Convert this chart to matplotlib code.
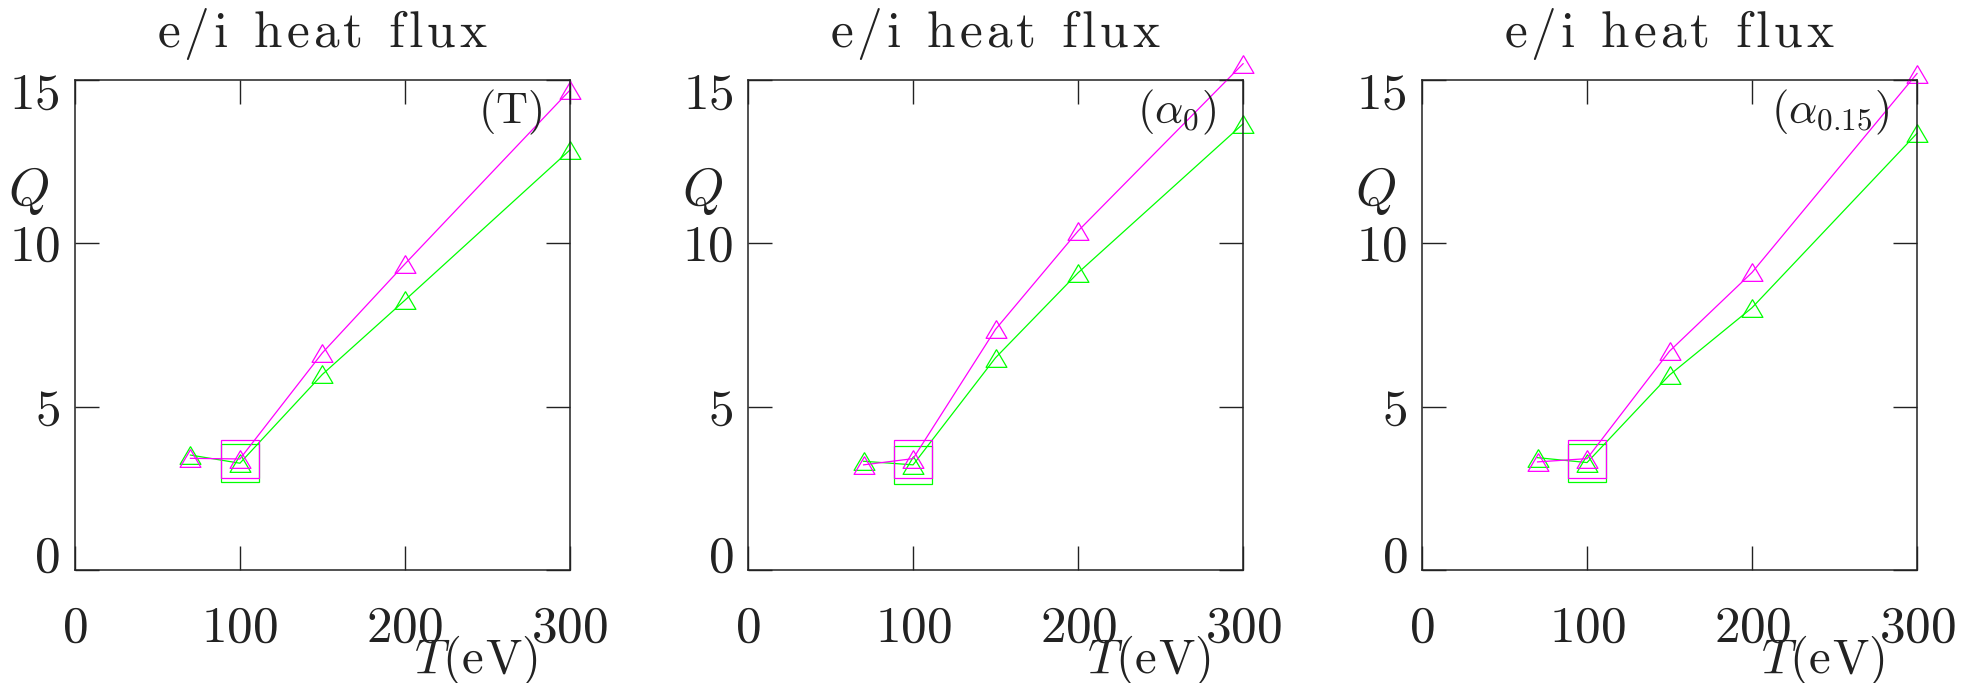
import matplotlib
matplotlib.use('Agg')
import matplotlib.pyplot as plt
from matplotlib.transforms import ScaledTranslation, blended_transform_factory

plt.rcParams['mathtext.fontset'] = 'cm'
plt.rcParams['font.family'] = ['DejaVu Serif']

# Temperature scan (eV)
temps = [70, 100, 150, 200, 300]

# Heat flux, one pair (magenta / green) per panel
q_mag_T = [3.42, 3.40, 6.65, 9.37, 14.69]
q_grn_T = [3.52, 3.27, 5.99, 8.26, 12.86]
q_mag_a0 = [3.22, 3.41, 7.37, 10.38, 15.50]
q_grn_a0 = [3.33, 3.22, 6.50, 9.10, 13.66]
q_mag_a15 = [3.31, 3.41, 6.70, 9.11, 15.20]
q_grn_a15 = [3.44, 3.29, 5.97, 8.03, 13.37]

panel_tags = [r'$(\mathrm{T})$', r'$(\alpha_{\mathit{0}})$', r'$(\alpha_{\mathit{0.15}})$']
panel_data = [(q_mag_T, q_grn_T), (q_mag_a0, q_grn_a0), (q_mag_a15, q_grn_a15)]

# the boxed reference point
ref_temp = 100

x_ticks = [0, 100, 200, 300]
y_ticks = [0, 5, 10, 15]

MAGENTA = '#ff00ff'
GREEN = '#00ff00'
INK = '#222222'
TRI = [(0, 0.85), (-1, -0.85), (1, -0.85), (0, 0.85)]


def spaced(s, gap=0.09):
    '''
    Letter-spaced roman title in mathtext.
    '''
    sep = r'\hspace{%g}' % gap
    words = [sep.join(r'\mathrm{%s}' % c for c in w) for w in s.split()]
    return '$' + (r'\hspace{%g}' % (gap * 3 + 0.3)).join(words) + '$'


fig = plt.figure(figsize=(19.66, 6.83), dpi=100)
lefts = [0.0381, 0.3805, 0.7233]

for left, tag, (qm, qg) in zip(lefts, panel_tags, panel_data):
    ax = fig.add_axes([left, 0.1654, 0.2518, 0.7174])
    ax.set_xlim(0, 300)
    ax.set_ylim(0, 15)

    for q, col in ((qg, GREEN), (qm, MAGENTA)):
        ax.plot(temps, q, color=col, lw=0.9, marker=TRI, ms=15,
                mfc='none', mec=col, mew=0.9, clip_on=False)
        i = temps.index(ref_temp)
        ax.plot([temps[i]], [q[i]], ls='none', marker='s', ms=28,
                mfc='none', mec=col, mew=0.9, clip_on=False)

    for sp in ax.spines.values():
        sp.set_linewidth(1.1)
        sp.set_color(INK)

    ax.set_xticks(x_ticks)
    ax.set_xticklabels(['$%d$' % t for t in x_ticks])
    ax.set_yticks(y_ticks)
    ax.set_yticklabels([])
    ax.tick_params(direction='in', length=17, width=1.0, top=True, right=True,
                   labelsize=37, colors=INK)
    ax.tick_params(axis='x', pad=24)
    ax.minorticks_off()

    # y labels, pulled inward at the ends like the original
    trans = blended_transform_factory(ax.transAxes, ax.transData)
    for v in y_ticks:
        dy = {0: 12, 15: -15}.get(v, -4) / 100.0
        ax.text(-0.03, v, '$%d$' % v, ha='right', va='center', fontsize=37,
                color=INK,
                transform=trans + ScaledTranslation(0, dy, fig.dpi_scale_trans))

    ax.text(0.5, 1.068, spaced('e/i heat flux'), ha='center', va='baseline',
            fontsize=37, color=INK, transform=ax.transAxes)
    ax.text(-0.093, 0.773, '$Q$', ha='center', va='center', fontsize=38,
            color=INK, transform=ax.transAxes)
    ax.text(0.935, -0.21, r'$T(\mathrm{e\hspace{0.06}V})$', ha='right',
            va='baseline', fontsize=35, color=INK, transform=ax.transAxes)
    ax.text(0.945, 0.912, tag, ha='right', va='baseline', fontsize=32,
            color=INK, transform=ax.transAxes)

fig.savefig('out.png', dpi=100)
